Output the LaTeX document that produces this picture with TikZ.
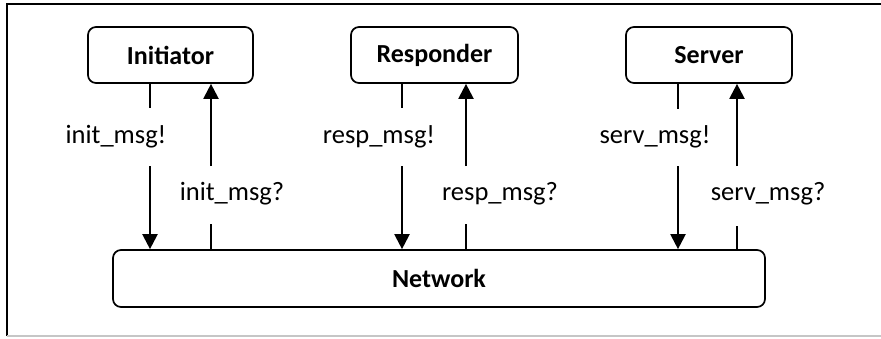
\documentclass[tikz,border=0pt]{standalone}
\usepackage{fontspec}
\setmainfont{Carlito}
\usetikzlibrary{arrows.meta}
\begin{document}
\begin{tikzpicture}[x=1pt,y=-1pt,
  agent/.style={draw, line width=1.7pt, rounded corners=8pt, font=\fontsize{26}{30}\selectfont\bfseries, inner sep=0pt},
  lbl/.style={font=\fontsize{26.5}{30}\selectfont, inner sep=0pt, anchor=center},
  wire/.style={line width=2.2pt},
  arr/.style={line width=2.2pt, -{Triangle[length=15pt,width=15pt]}}]
\useasboundingbox (0,0) rectangle (881,338);
% outer frame
\draw[line width=1.4pt] (7,336) -- (7,4) -- (881,4);
\draw[line width=1.4pt, gray!45] (7,336) -- (881,336);
% components
\node[agent, minimum width=165pt, minimum height=56pt] (ini) at (170.5,55) {Initiator};
\node[agent, minimum width=167pt, minimum height=56pt] (rsp) at (434.5,55) {Responder};
\node[agent, minimum width=166pt, minimum height=56pt] (srv) at (709,55) {Server};
\node[agent, minimum width=652pt, minimum height=57pt] (net) at (439,278.5) {Network};
% break points of the channels
\coordinate (iA) at (150,108); \coordinate (iB) at (150,166);
\coordinate (iC) at (211,224); \coordinate (iD) at (211,166);
\coordinate (rA) at (402,108); \coordinate (rB) at (402,166);
\coordinate (rC) at (466,224); \coordinate (rD) at (466,166);
\coordinate (sA) at (678,109); \coordinate (sB) at (678,166);
\coordinate (sC) at (737,226); \coordinate (sD) at (737,166);
% channel labels
\node[lbl] (l1) at (116,137) {init\_msg!};
\node[lbl] (l2) at (232,194) {init\_msg?};
\node[lbl] (l3) at (379,137) {resp\_msg!};
\node[lbl] (l4) at (500,194) {resp\_msg?};
\node[lbl] (l5) at (655,137) {serv\_msg!};
\node[lbl] (l6) at (768,194) {serv\_msg?};
% sending channels
\draw[wire] (ini.south -| iA) -- (iA);
\draw[arr] (iB) -- (net.north -| iB);
\draw[wire] (rsp.south -| rA) -- (rA);
\draw[arr] (rB) -- (net.north -| rB);
\draw[wire] (srv.south -| sA) -- (sA);
\draw[arr] (sB) -- (net.north -| sB);
% receiving channels
\draw[wire] (net.north -| iC) -- (iC);
\draw[arr] (iD) -- (ini.south -| iD);
\draw[wire] (net.north -| rC) -- (rC);
\draw[arr] (rD) -- (rsp.south -| rD);
\draw[wire] (net.north -| sC) -- (sC);
\draw[arr] (sD) -- (srv.south -| sD);
\end{tikzpicture}
\end{document}
